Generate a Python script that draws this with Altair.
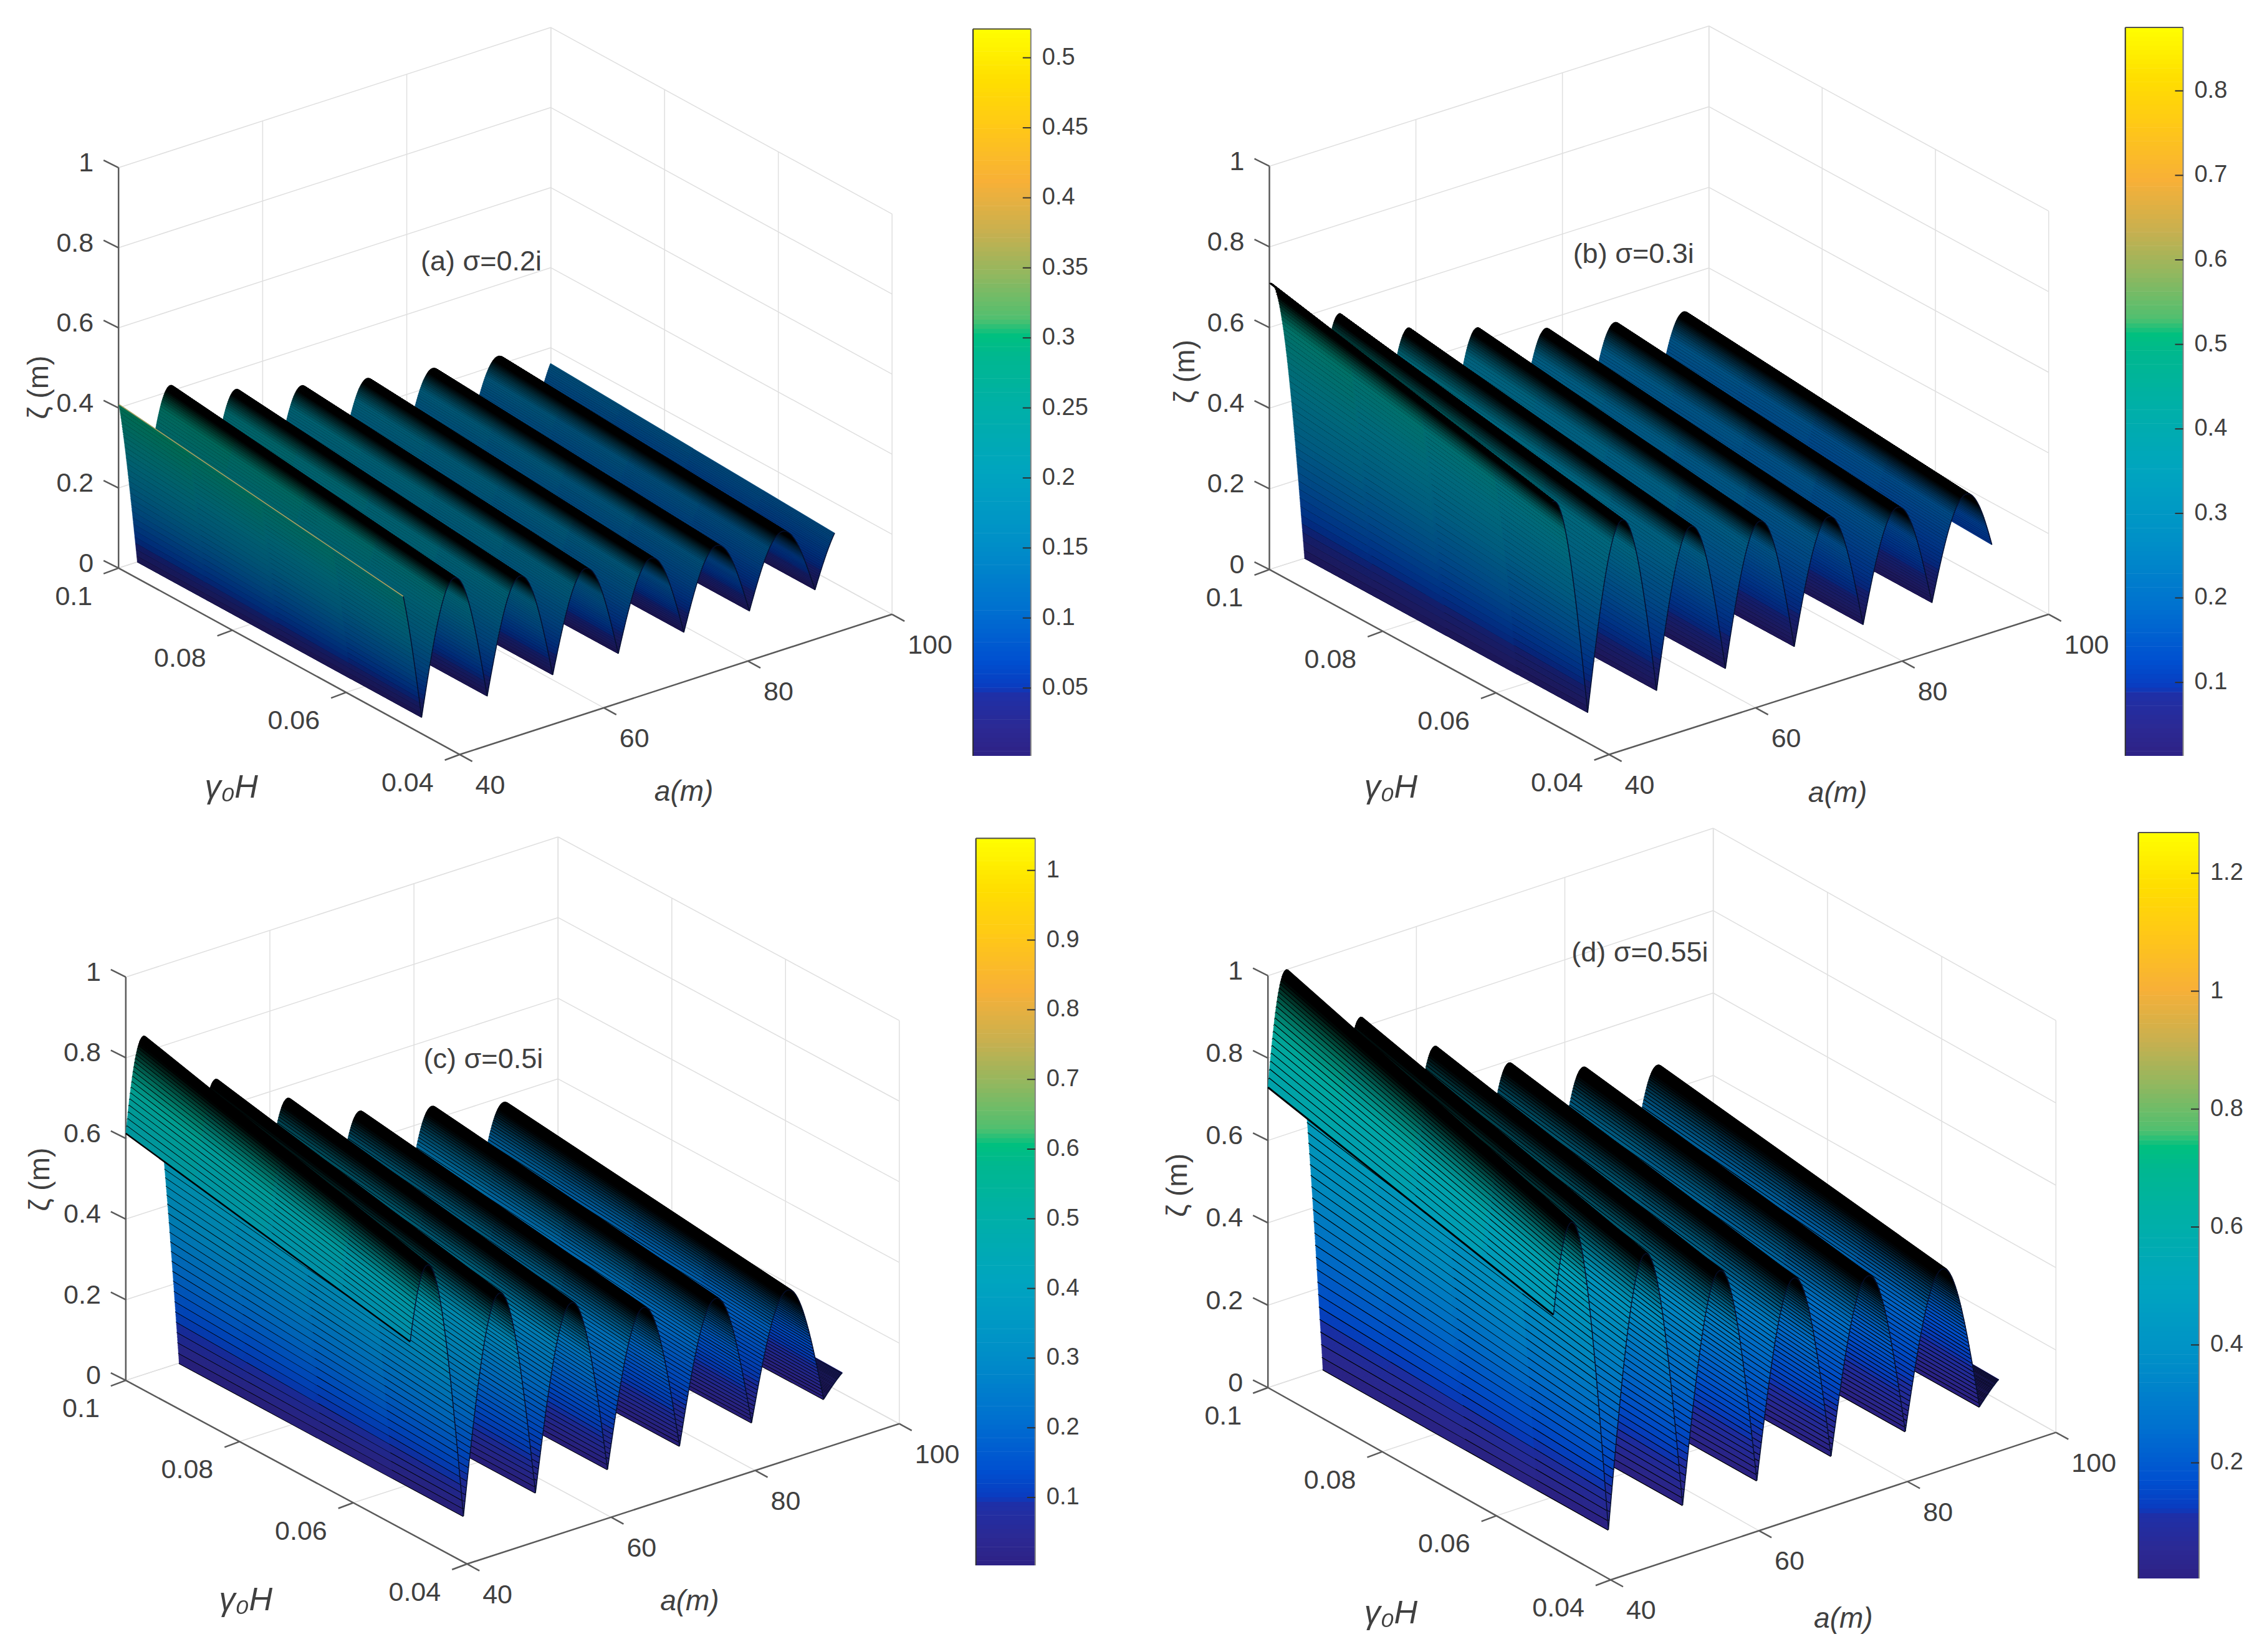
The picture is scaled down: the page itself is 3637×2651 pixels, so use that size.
import altair as alt
import pandas as pd

# ---------- values ----------
ARCH_RISE = [0, .031, .063, .094, .125, .156, .187, .218, .249, .279, .309, .339, .368, .397, .426, .454, .482,
             .509, .536, .562, .588, .613, .637, .661, .685, .707, .729, .750, .771, .790, .809, .827, .844, .860,
             .876, .891, .905, .918, .930, .941, .951, .960, .969, .976, .982, .988, .992, .995, .998, .999, 1.0]
GAMMA_ROWS = [.1, .0875, .075, .0625, .05]
GAMMA_FALLOFF = [1.0, .944, .888, .832, .776]

PANEL_NAMES = ["(a) σ=0.2i", "(b) σ=0.3i", "(c) σ=0.5i", "(d) σ=0.55i"]
ARCH_START = [33.5, 35.4, 37.4, 37.4]
ARCH_SPAN = [9.1, 9.4, 10.0, 10.0]
CRESTS = [
    [.53, .415, .352, .308, .273, .245, .222, .20],
    [.71, .58, .49, .436, .38, .34, .312],
    [.84, .675, .57, .48, .434, .386, .09],
    [1.0, .825, .695, .595, .525, .47, .09],
]
WALL_TOP = [.41, .69, .84, 1.0]
CBAR_RANGE = [(.0015, .5206), (.013, .875), (.0025, 1.046), (.004, 1.269)]
CBAR_TICKS = [
    [.05, .1, .15, .2, .25, .3, .35, .4, .45, .5],
    [.1, .2, .3, .4, .5, .6, .7, .8],
    [.1, .2, .3, .4, .5, .6, .7, .8, .9, 1],
    [.2, .4, .6, .8, 1, 1.2],
]
CBAR_LABELS = [
    ["0.05", "0.1", "0.15", "0.2", "0.25", "0.3", "0.35", "0.4", "0.45", "0.5"],
    ["0.1", "0.2", "0.3", "0.4", "0.5", "0.6", "0.7", "0.8"],
    ["0.1", "0.2", "0.3", "0.4", "0.5", "0.6", "0.7", "0.8", "0.9", "1"],
    ["0.2", "0.4", "0.6", "0.8", "1", "1.2"],
]
Z_TICKS = [0, .2, .4, .6, .8, 1]
Z_LABELS = ["0", "0.2", "0.4", "0.6", "0.8", "1"]
G_TICKS = [.1, .08, .06, .04]
G_LABELS = ["0.1", "0.08", "0.06", "0.04"]
A_TICKS = [40, 60, 80, 100]
A_LABELS = ["40", "60", "80", "100"]
CMAP_T = [0, .04, .085, .094, .13, .2, .294, .39, .48, .55, .578, .60, .66, .72, .79, .863, .93, 1]
CMAP_C = ["#2e2285", "#2c2a95", "#1e30a8", "#0a3cc0", "#0050d0", "#0070d0", "#0090c8", "#00a5c0", "#00b0a8",
          "#00b890", "#00c080", "#50c070", "#90b860", "#c8b050", "#f8b038", "#ffc818", "#ffdf00", "#ffff00"]

# ---------- layout (figure pixels, from the 1568 px view) ----------
K = 3637 / 1568
ORIGIN = [(82, 393), (878, 394), (87, 955), (877, 960)]
G_END = [(318, 522), (1113, 522), (323, 1082), (1114, 1093)]
A_END = [(617, 425), (1417, 425), (622, 985), (1422, 991)]
Z_TOP = [116, 115, 676, 675]
CBAR_BOX = [(673, 713, 20, 523), (1470, 1510, 19, 523), (675, 716, 580, 1083), (1479, 1521, 576, 1092)]
NAME_POS = [(291, 181), (1088, 176), (293, 733), (1087, 659)]
ZT_POS = [(27, 268), (820, 257), (28, 816), (815, 820)]
GT_POS = [(160, 545), (962, 545), (170, 1107), (962, 1116)]
AT_POS = [(473, 548), (1271, 549), (477, 1108), (1275, 1120)]
MESH_W = [.7, 1.0, 2.5, 3.0]
BAND = [100, 110, 130, 140]
DARKEN = [.42, .36, .12, .05]
GRID = "#dfdfdf"
AXC = "#5a5a5a"
TXT = "#404040"


def hex2(c):
    return [int(c[i:i + 2], 16) for i in (1, 3, 5)]


def cmap(t, dark=0.0):
    t = max(0.0, min(1.0, t))
    for i in range(len(CMAP_T) - 1):
        if t <= CMAP_T[i + 1]:
            f = (t - CMAP_T[i]) / (CMAP_T[i + 1] - CMAP_T[i])
            a, b = hex2(CMAP_C[i]), hex2(CMAP_C[i + 1])
            rgb = [int((a[j] + (b[j] - a[j]) * f) * (1 - dark)) for j in range(3)]
            return "#%02x%02x%02x" % tuple(rgb)
    return CMAP_C[-1]


rules_back, rules_surf, rects, texts, texts_i, texts_r = [], [], [], [], [], []


def seg(store, p, q, w, c):
    store.append({"x": round(p[0], 2), "y": round(p[1], 2), "x2": round(q[0], 2), "y2": round(q[1], 2), "w": w, "c": c})


ARCH = ARCH_RISE + ARCH_RISE[-2::-1]

for n in range(4):
    ox, oy = ORIGIN[n][0] * K, ORIGIN[n][1] * K
    gx, gy = (G_END[n][0] - ORIGIN[n][0]) * K, (G_END[n][1] - ORIGIN[n][1]) * K
    ax, ay = (A_END[n][0] - G_END[n][0]) * K, (A_END[n][1] - G_END[n][1]) * K
    zs = (ORIGIN[n][1] - Z_TOP[n]) * K

    def P(g, a, z):
        fg, fa = (.1 - g) / .06, (a - 40) / 60
        return (ox + gx * fg + ax * fa, oy + gy * fg + ay * fa - zs * z)

    # walls and floor grid
    for z in Z_TICKS:
        seg(rules_back, P(.1, 40, z), P(.1, 100, z), 1.5, GRID)
        seg(rules_back, P(.1, 100, z), P(.04, 100, z), 1.5, GRID)
    for a in A_TICKS:
        seg(rules_back, P(.1, a, 0), P(.04, a, 0), 1.5, GRID)
        seg(rules_back, P(.1, a, 0), P(.1, a, 1), 1.5, GRID)
    for g in G_TICKS:
        seg(rules_back, P(g, 40, 0), P(g, 100, 0), 1.5, GRID)
        seg(rules_back, P(g, 100, 0), P(g, 100, 1), 1.5, GRID)
    # axes
    seg(rules_back, P(.1, 40, 0), P(.1, 40, 1), 2.5, AXC)
    seg(rules_back, P(.1, 40, 0), P(.04, 40, 0), 2.5, AXC)
    seg(rules_back, P(.04, 40, 0), P(.04, 100, 0), 2.5, AXC)
    for z, lab in zip(Z_TICKS, Z_LABELS):
        p = P(.1, 40, z)
        seg(rules_back, p, (p[0] - 24, p[1] - 12), 2.5, AXC)
        texts.append({"x": p[0] - 40, "y": p[1] - 7, "t": lab, "s": 43, "al": "right"})
    for g, lab in zip(G_TICKS, G_LABELS):
        p = P(g, 40, 0)
        seg(rules_back, p, (p[0] - 24, p[1] + 9), 2.5, AXC)
        texts.append({"x": p[0] - 42, "y": p[1] + 46, "t": lab, "s": 43, "al": "right"})
    for a, lab in zip(A_TICKS, A_LABELS):
        p = P(.04, a, 0)
        seg(rules_back, p, (p[0] + 20, p[1] + 11), 2.5, AXC)
        texts.append({"x": p[0] + 25, "y": p[1] + 50, "t": lab, "s": 43, "al": "left"})

    # surface: one mesh line per a sample, painted from a=100 towards a=40
    crest = CRESTS[n]
    line = []
    for k, c in enumerate(crest):
        a0 = ARCH_START[n] + k * ARCH_SPAN[n]
        for i, v in enumerate(ARCH):
            a = a0 + ARCH_SPAN[n] * i / (len(ARCH) - 1)
            if 40 <= a <= 100:
                line.append((a, c * v))
    line.sort()

    # signed on-screen width of each strip; it changes sign at the ridge silhouette
    glen = (gx * gx + gy * gy) ** .5
    dgx, dgy = gx / glen, gy / glen
    signed = [0.0] * len(line)
    for i in range(1, len(line)):
        pa, pb = P(.1, line[i - 1][0], line[i - 1][1]), P(.1, line[i][0], line[i][1])
        signed[i] = (pb[0] - pa[0]) * dgy - (pb[1] - pa[1]) * dgx
    dist = [1e9] * len(line)
    run = 1e9
    for i in range(len(line) - 1, 0, -1):          # strips rising towards a silhouette
        if i + 1 < len(line) and signed[i] > 0 and signed[i + 1] <= 0:
            run = 0.0
        if signed[i] <= 0:
            run = 1e9
            continue
        run += abs(signed[i])
        dist[i] = run
    run = 1e9
    for i in range(1, len(line)):                  # strips falling away from it
        if signed[i] <= 0 and signed[i - 1] > 0:
            run = 0.0
        if signed[i] > 0:
            run = 1e9
            continue
        run += abs(signed[i])
        dist[i] = min(dist[i], run)

    last_seg = len(GAMMA_ROWS) - 2
    for i in range(len(line) - 1, 0, -1):
        a1, z1 = line[i]
        a0, z0 = line[i - 1]
        band = min(1.0, max(0.0, 1.15 * (1 - dist[i] / BAND[n]))) ** 2
        dk = max(DARKEN[n], band)
        for j in range(len(GAMMA_ROWS) - 1):
            g, g2 = GAMMA_ROWS[j], GAMMA_ROWS[j + 1]
            f, f2 = GAMMA_FALLOFF[j], GAMMA_FALLOFF[j + 1]
            pa, pb = P(g, a0, z0 * f), P(g, a1, z1 * f)
            qa, qb = P(g2, a0, z0 * f2), P(g2, a1, z1 * f2)
            m1 = ((pa[0] + pb[0]) / 2, (pa[1] + pb[1]) / 2)
            m2 = ((qa[0] + qb[0]) / 2, (qa[1] + qb[1]) / 2)
            dx, dy = m2[0] - m1[0], m2[1] - m1[1]
            ln = (dx * dx + dy * dy) ** .5
            ux, uy = dx / ln, dy / ln
            width = abs((pb[0] - pa[0]) * dy - (pb[1] - pa[1]) * dx) / ln
            zm = (z0 + z1) / 2 * (f + f2) / 2
            t = .58 * (max(zm, 0) / WALL_TOP[n]) ** .85
            col = cmap(t, dk)
            parts = 1
            if j in (0, last_seg) and width > 2.5:
                parts = min(9, int(width / 2) + 1)
            if parts == 1 and 0 < j < last_seg:
                # inner pieces run on under their neighbours so that no seam shows
                ext = abs((pb[0] - pa[0]) * ux + (pb[1] - pa[1]) * uy) / 2 + .5
                seg(rules_surf, (m1[0] - ux * ext, m1[1] - uy * ext), (m2[0] + ux * ext, m2[1] + uy * ext),
                    round(width + .7, 2), col)
                continue
            for s in range(parts):
                u = (s + .5) / parts
                c1 = (pa[0] + (pb[0] - pa[0]) * u, pa[1] + (pb[1] - pa[1]) * u)
                c2 = (qa[0] + (qb[0] - qa[0]) * u, qa[1] + (qb[1] - qa[1]) * u)
                seg(rules_surf, c1, c2, round(width / parts + .7, 2), col)
        hi = n == 0 and i == 1
        seg(rules_surf, P(.1, a0, z0), P(.05, a0, z0 * GAMMA_FALLOFF[-1]),
            1.6 if hi else MESH_W[n], "#a8a060" if hi else "#000000")
        seg(rules_surf, P(.05, a0, z0 * GAMMA_FALLOFF[-1]), P(.05, a1, z1 * GAMMA_FALLOFF[-1]), 1.5, "#061030")

    # colour bar
    x0, x1, y0, y1 = [v * K for v in CBAR_BOX[n]]
    vmin, vmax = CBAR_RANGE[n]
    steps = 160
    for i in range(steps):
        rects.append({"x": x0, "x2": x1, "y": y1 - (y1 - y0) * i / steps, "y2": y1 - (y1 - y0) * (i + 1) / steps - .6,
                      "c": cmap((i + .5) / steps)})
    seg(rules_surf, (x0, y0), (x0, y1), 2, "#303030")
    seg(rules_surf, (x1, y0), (x1, y1), 2, "#808080")
    seg(rules_surf, (x0, y0), (x1, y0), 2, "#505050")
    for v, lab in zip(CBAR_TICKS[n], CBAR_LABELS[n]):
        y = y1 - (y1 - y0) * (v - vmin) / (vmax - vmin)
        seg(rules_surf, (x1 - 13, y), (x1, y), 2, "#303030")
        texts.append({"x": x1 + 18, "y": y, "t": lab, "s": 38, "al": "left"})

    texts.append({"x": NAME_POS[n][0] * K, "y": NAME_POS[n][1] * K, "t": PANEL_NAMES[n], "s": 45, "al": "left"})
    texts_r.append({"x": ZT_POS[n][0] * K, "y": ZT_POS[n][1] * K, "t": "ζ (m)", "s": 46, "al": "center"})
    texts_i.append({"x": GT_POS[n][0] * K, "y": GT_POS[n][1] * K, "t": "γ₀H", "s": 52, "al": "center"})
    texts_i.append({"x": AT_POS[n][0] * K, "y": AT_POS[n][1] * K, "t": "a(m)", "s": 46, "al": "center"})

W, H = 3621, 2635
xs = alt.Scale(domain=[8, 8 + W], nice=False, zero=False)
ys = alt.Scale(domain=[8 + H, 8], nice=False, zero=False)
X = alt.X("x:Q", scale=xs, axis=None)
Y = alt.Y("y:Q", scale=ys, axis=None)


def rule_layer(rows):
    return alt.Chart(pd.DataFrame(rows)).mark_rule().encode(
        x=X, y=Y, x2="x2:Q", y2="y2:Q",
        size=alt.Size("w:Q", scale=None, legend=None),
        color=alt.Color("c:N", scale=None, legend=None),
    )


def text_layer(rows, align, **kw):
    rows = [r for r in rows if r["al"] == align]
    return alt.Chart(pd.DataFrame(rows)).mark_text(font="Liberation Sans", align=align, baseline="middle",
                                                   color=TXT, **kw).encode(
        x=X, y=Y, text="t:N", size=alt.Size("s:Q", scale=None, legend=None))


back = rule_layer(rules_back)
bar = alt.Chart(pd.DataFrame(rects)).mark_rect().encode(
    x=X, x2="x2:Q", y=Y, y2="y2:Q", color=alt.Color("c:N", scale=None, legend=None))
surf = rule_layer(rules_surf)

chart = alt.layer(
    back, bar, surf,
    text_layer(texts, "left"), text_layer(texts, "right"),
    text_layer(texts_i, "center", fontStyle="italic"),
    text_layer(texts_r, "center", angle=270),
).properties(
    width=W, height=H, padding=0, background="white",
    autosize=alt.AutoSizeParams(type="fit", contains="padding"),
).configure_view(stroke=None)

chart.save("out.html", embed_options={"renderer": "svg", "actions": False})
